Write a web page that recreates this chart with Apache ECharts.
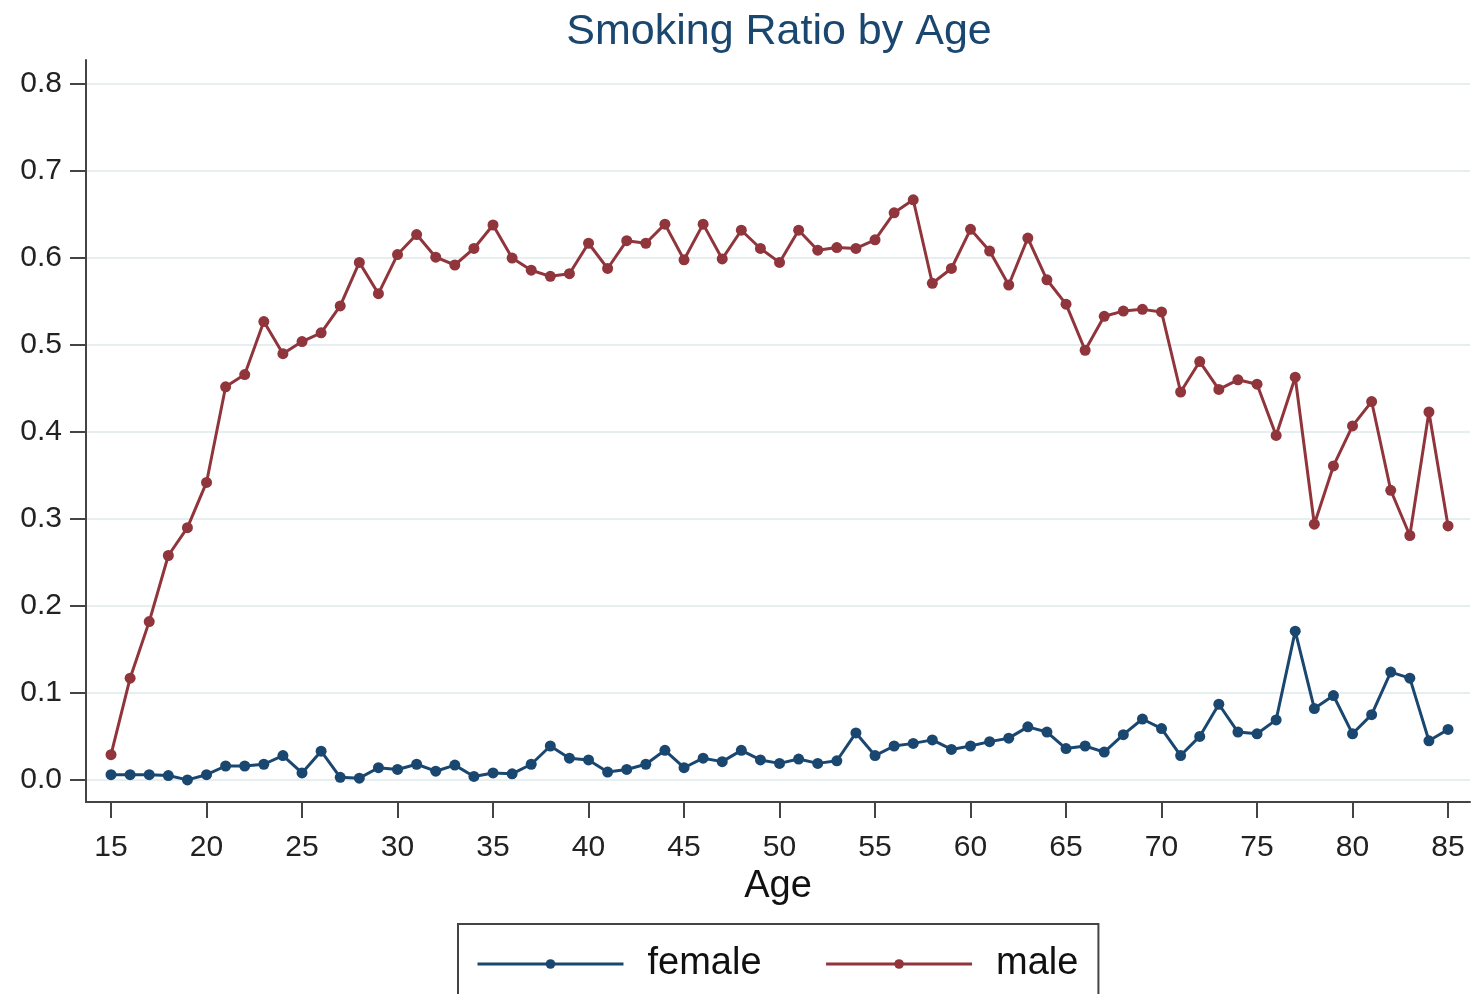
<!DOCTYPE html>
<html>
<head>
<meta charset="utf-8">
<script src="https://cdn.jsdelivr.net/npm/echarts@6/dist/echarts.min.js"></script>
<style>
html,body{margin:0;padding:0;background:#fff;}
#chart{width:1476px;height:994px;}
</style>
</head>
<body>
<div id="chart"></div>
<script>
const ages = [15,16,17,18,19,20,21,22,23,24,25,26,27,28,29,30,31,32,33,34,35,36,37,38,39,40,41,42,43,44,45,46,47,48,49,50,51,52,53,54,55,56,57,58,59,60,61,62,63,64,65,66,67,68,69,70,71,72,73,74,75,76,77,78,79,80,81,82,83,84,85];
const female = [0.006,0.006,0.006,0.005,0.000,0.006,0.016,0.016,0.018,0.028,0.008,0.033,0.003,0.002,0.014,0.012,0.018,0.010,0.017,0.004,0.008,0.007,0.018,0.039,0.025,0.023,0.009,0.012,0.018,0.034,0.014,0.025,0.021,0.034,0.023,0.019,0.024,0.019,0.022,0.054,0.028,0.039,0.042,0.046,0.035,0.039,0.044,0.048,0.061,0.055,0.036,0.039,0.032,0.052,0.070,0.059,0.028,0.050,0.087,0.055,0.053,0.069,0.171,0.082,0.097,0.053,0.075,0.124,0.117,0.045,0.058];
const male = [0.029,0.117,0.182,0.258,0.290,0.342,0.452,0.466,0.527,0.490,0.504,0.514,0.545,0.595,0.559,0.604,0.627,0.601,0.592,0.611,0.638,0.600,0.586,0.579,0.582,0.617,0.588,0.620,0.617,0.639,0.598,0.639,0.599,0.632,0.611,0.595,0.632,0.609,0.612,0.611,0.621,0.652,0.667,0.571,0.588,0.633,0.608,0.569,0.623,0.575,0.547,0.494,0.533,0.539,0.541,0.538,0.446,0.481,0.449,0.460,0.455,0.396,0.463,0.294,0.361,0.407,0.435,0.333,0.281,0.423,0.292];
const xTicks = [15,20,25,30,35,40,45,50,55,60,65,70,75,80,85];
const yTicks = [0,0.1,0.2,0.3,0.4,0.5,0.6,0.7,0.8];
const seriesNames = ['female','male'];
const titleText = 'Smoking Ratio by Age';
const xName = 'Age';

const FONT = '"Liberation Sans", Arial, sans-serif';
const chart = echarts.init(document.getElementById('chart'), null, {renderer:'canvas'});
const pairs = arr => ages.map((a,i)=>[a, arr[i]]);

chart.setOption({
  animation:false,
  backgroundColor:'#ffffff',
  title:{
    text:titleText, left:774, top:6, textAlign:'center',
    textStyle:{fontFamily:FONT, fontSize:43, fontWeight:'normal', color:'#1a476f'}
  },
  grid:{left:86, right:6, top:60, bottom:192, containLabel:false},
  xAxis:{
    type:'value', min:13.69, max:86.15,
    name:xName, nameLocation:'middle', nameGap:60,
    nameTextStyle:{fontFamily:FONT, fontSize:38, color:'#111'},
    axisLine:{show:true, onZero:false, lineStyle:{color:'#444', width:2}},
    axisTick:{show:true, length:16, customValues:xTicks, lineStyle:{color:'#444', width:2}},
    axisLabel:{customValues:xTicks, margin:31, fontFamily:FONT, fontSize:30, color:'#222'},
    splitLine:{show:false}
  },
  yAxis:{
    type:'value', min:-0.0254, max:0.8277,
    axisLine:{show:true, onZero:false, lineStyle:{color:'#444', width:2}},
    axisTick:{show:true, length:16, customValues:yTicks, lineStyle:{color:'#444', width:2}},
    axisLabel:{customValues:yTicks, margin:24, fontFamily:FONT, fontSize:30, color:'#222',
      formatter:v=>v.toFixed(1)},
    splitLine:{show:true, lineStyle:{color:'#e6eef0', width:2}}
  },
  legend:{
    data:seriesNames, left:458, top:924,
    padding:[21,20,21,18], itemGap:63, itemWidth:146, itemHeight:12,
    borderColor:'#444', borderWidth:2, backgroundColor:'#fff',
    lineStyle:{width:3},
    textStyle:{fontFamily:FONT, fontSize:38, color:'#111', padding:[0,0,0,19]}
  },
  series:[
    {name:seriesNames[0], type:'line', data:pairs(female), symbol:'circle', symbolSize:11,
     itemStyle:{color:'#1a476f'}, lineStyle:{color:'#1a476f', width:3}, z:3},
    {name:seriesNames[1], type:'line', data:pairs(male), symbol:'circle', symbolSize:11,
     itemStyle:{color:'#90353b'}, lineStyle:{color:'#90353b', width:3}, z:3}
  ]
});
</script>
</body>
</html>
